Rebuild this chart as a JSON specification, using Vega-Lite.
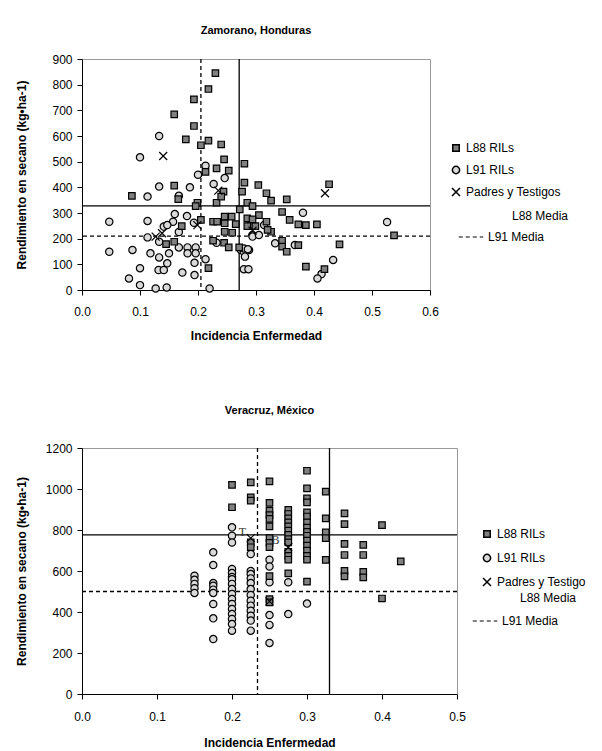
{
  "$schema": "https://vega.github.io/schema/vega-lite/v6.json",
  "padding": {"left": 14, "top": 24, "right": 5, "bottom": 5},
  "background": "white",
  "config": {
    "font": "Liberation Sans",
    "view": {"stroke": "#999999", "strokeWidth": 1},
    "axis": {"grid": false, "domainColor": "black", "tickColor": "black", "tickSize": 5, "labelFontSize": 12, "labelColor": "#000000", "titleFontSize": 12, "titleFontWeight": "bold", "titleColor": "#000000", "labelFont": "Liberation Sans", "titleFont": "Liberation Sans"},
    "title": {"fontSize": 11, "fontWeight": "bold", "font": "Liberation Sans", "anchor": "middle", "color": "#000000"},
    "legend": {"labelFontSize": 12, "labelFont": "Liberation Sans", "labelColor": "#000000"}
  },
  "spacing": 62,
  "resolve": {
    "scale": {"x": "independent", "y": "independent", "shape": "independent", "fill": "independent", "size": "independent", "strokeDash": "independent"},
    "legend": {"shape": "independent", "fill": "independent", "size": "independent", "strokeDash": "independent"}
  },
  "datasets": {
    "zam_means": [
      {"serie": "L88 Media", "eje": "x", "valor": 0.271},
      {"serie": "L88 Media", "eje": "y", "valor": 328},
      {"serie": "L91 Media", "eje": "x", "valor": 0.205},
      {"serie": "L91 Media", "eje": "y", "valor": 210}
    ],
    "ver_means": [
      {"serie": "L88 Media", "eje": "x", "valor": 0.33},
      {"serie": "L88 Media", "eje": "y", "valor": 776},
      {"serie": "L91 Media", "eje": "x", "valor": 0.234},
      {"serie": "L91 Media", "eje": "y", "valor": 500}
    ],
    "ver_labels": [
      {"inc": 0.214, "rend": 792, "etiqueta": "T"},
      {"inc": 0.258, "rend": 752, "etiqueta": "B"}
    ],
    "zam_pts": [
      {"serie": "L91 RILs", "inc": 0.133, "rend": 600},
      {"serie": "L91 RILs", "inc": 0.100, "rend": 517},
      {"serie": "L91 RILs", "inc": 0.213, "rend": 484},
      {"serie": "L91 RILs", "inc": 0.200, "rend": 449},
      {"serie": "L91 RILs", "inc": 0.246, "rend": 436},
      {"serie": "L91 RILs", "inc": 0.227, "rend": 413},
      {"serie": "L91 RILs", "inc": 0.133, "rend": 403},
      {"serie": "L91 RILs", "inc": 0.186, "rend": 400},
      {"serie": "L91 RILs", "inc": 0.113, "rend": 364},
      {"serie": "L91 RILs", "inc": 0.167, "rend": 367},
      {"serie": "L91 RILs", "inc": 0.047, "rend": 266},
      {"serie": "L91 RILs", "inc": 0.113, "rend": 269},
      {"serie": "L91 RILs", "inc": 0.160, "rend": 296},
      {"serie": "L91 RILs", "inc": 0.181, "rend": 288},
      {"serie": "L91 RILs", "inc": 0.157, "rend": 266},
      {"serie": "L91 RILs", "inc": 0.141, "rend": 247},
      {"serie": "L91 RILs", "inc": 0.147, "rend": 253},
      {"serie": "L91 RILs", "inc": 0.167, "rend": 226},
      {"serie": "L91 RILs", "inc": 0.193, "rend": 262},
      {"serie": "L91 RILs", "inc": 0.294, "rend": 214},
      {"serie": "L91 RILs", "inc": 0.113, "rend": 205},
      {"serie": "L91 RILs", "inc": 0.133, "rend": 188},
      {"serie": "L91 RILs", "inc": 0.167, "rend": 166},
      {"serie": "L91 RILs", "inc": 0.182, "rend": 166},
      {"serie": "L91 RILs", "inc": 0.196, "rend": 166},
      {"serie": "L91 RILs", "inc": 0.047, "rend": 149},
      {"serie": "L91 RILs", "inc": 0.087, "rend": 156},
      {"serie": "L91 RILs", "inc": 0.118, "rend": 143},
      {"serie": "L91 RILs", "inc": 0.150, "rend": 143},
      {"serie": "L91 RILs", "inc": 0.182, "rend": 143},
      {"serie": "L91 RILs", "inc": 0.196, "rend": 143},
      {"serie": "L91 RILs", "inc": 0.213, "rend": 120},
      {"serie": "L91 RILs", "inc": 0.232, "rend": 184},
      {"serie": "L91 RILs", "inc": 0.274, "rend": 156},
      {"serie": "L91 RILs", "inc": 0.279, "rend": 149},
      {"serie": "L91 RILs", "inc": 0.288, "rend": 156},
      {"serie": "L91 RILs", "inc": 0.133, "rend": 127},
      {"serie": "L91 RILs", "inc": 0.147, "rend": 104},
      {"serie": "L91 RILs", "inc": 0.100, "rend": 85},
      {"serie": "L91 RILs", "inc": 0.132, "rend": 78},
      {"serie": "L91 RILs", "inc": 0.141, "rend": 78},
      {"serie": "L91 RILs", "inc": 0.173, "rend": 68},
      {"serie": "L91 RILs", "inc": 0.194, "rend": 58},
      {"serie": "L91 RILs", "inc": 0.194, "rend": 106},
      {"serie": "L91 RILs", "inc": 0.081, "rend": 45},
      {"serie": "L91 RILs", "inc": 0.100, "rend": 19},
      {"serie": "L91 RILs", "inc": 0.127, "rend": 6},
      {"serie": "L91 RILs", "inc": 0.146, "rend": 10},
      {"serie": "L91 RILs", "inc": 0.220, "rend": 6},
      {"serie": "L91 RILs", "inc": 0.279, "rend": 81},
      {"serie": "L91 RILs", "inc": 0.287, "rend": 81},
      {"serie": "L91 RILs", "inc": 0.381, "rend": 301},
      {"serie": "L91 RILs", "inc": 0.526, "rend": 265},
      {"serie": "L91 RILs", "inc": 0.314, "rend": 253},
      {"serie": "L91 RILs", "inc": 0.294, "rend": 208},
      {"serie": "L91 RILs", "inc": 0.305, "rend": 214},
      {"serie": "L91 RILs", "inc": 0.333, "rend": 182},
      {"serie": "L91 RILs", "inc": 0.367, "rend": 175},
      {"serie": "L91 RILs", "inc": 0.279, "rend": 162},
      {"serie": "L91 RILs", "inc": 0.286, "rend": 159},
      {"serie": "L91 RILs", "inc": 0.281, "rend": 130},
      {"serie": "L91 RILs", "inc": 0.433, "rend": 117},
      {"serie": "L91 RILs", "inc": 0.413, "rend": 62},
      {"serie": "L91 RILs", "inc": 0.406, "rend": 45},
      {"serie": "L88 RILs", "inc": 0.230, "rend": 845},
      {"serie": "L88 RILs", "inc": 0.218, "rend": 783},
      {"serie": "L88 RILs", "inc": 0.193, "rend": 743},
      {"serie": "L88 RILs", "inc": 0.159, "rend": 684},
      {"serie": "L88 RILs", "inc": 0.193, "rend": 639},
      {"serie": "L88 RILs", "inc": 0.179, "rend": 587},
      {"serie": "L88 RILs", "inc": 0.218, "rend": 582},
      {"serie": "L88 RILs", "inc": 0.205, "rend": 564},
      {"serie": "L88 RILs", "inc": 0.240, "rend": 567},
      {"serie": "L88 RILs", "inc": 0.245, "rend": 509},
      {"serie": "L88 RILs", "inc": 0.280, "rend": 492},
      {"serie": "L88 RILs", "inc": 0.232, "rend": 474},
      {"serie": "L88 RILs", "inc": 0.253, "rend": 465},
      {"serie": "L88 RILs", "inc": 0.213, "rend": 460},
      {"serie": "L88 RILs", "inc": 0.159, "rend": 407},
      {"serie": "L88 RILs", "inc": 0.244, "rend": 383},
      {"serie": "L88 RILs", "inc": 0.276, "rend": 383},
      {"serie": "L88 RILs", "inc": 0.280, "rend": 418},
      {"serie": "L88 RILs", "inc": 0.304, "rend": 409},
      {"serie": "L88 RILs", "inc": 0.086, "rend": 367},
      {"serie": "L88 RILs", "inc": 0.166, "rend": 354},
      {"serie": "L88 RILs", "inc": 0.199, "rend": 340},
      {"serie": "L88 RILs", "inc": 0.196, "rend": 327},
      {"serie": "L88 RILs", "inc": 0.232, "rend": 340},
      {"serie": "L88 RILs", "inc": 0.240, "rend": 364},
      {"serie": "L88 RILs", "inc": 0.272, "rend": 314},
      {"serie": "L88 RILs", "inc": 0.285, "rend": 340},
      {"serie": "L88 RILs", "inc": 0.294, "rend": 327},
      {"serie": "L88 RILs", "inc": 0.172, "rend": 249},
      {"serie": "L88 RILs", "inc": 0.205, "rend": 273},
      {"serie": "L88 RILs", "inc": 0.226, "rend": 266},
      {"serie": "L88 RILs", "inc": 0.233, "rend": 266},
      {"serie": "L88 RILs", "inc": 0.246, "rend": 286},
      {"serie": "L88 RILs", "inc": 0.258, "rend": 286},
      {"serie": "L88 RILs", "inc": 0.246, "rend": 260},
      {"serie": "L88 RILs", "inc": 0.265, "rend": 257},
      {"serie": "L88 RILs", "inc": 0.246, "rend": 227},
      {"serie": "L88 RILs", "inc": 0.259, "rend": 223},
      {"serie": "L88 RILs", "inc": 0.285, "rend": 279},
      {"serie": "L88 RILs", "inc": 0.291, "rend": 253},
      {"serie": "L88 RILs", "inc": 0.299, "rend": 249},
      {"serie": "L88 RILs", "inc": 0.145, "rend": 179},
      {"serie": "L88 RILs", "inc": 0.159, "rend": 188},
      {"serie": "L88 RILs", "inc": 0.226, "rend": 192},
      {"serie": "L88 RILs", "inc": 0.245, "rend": 184},
      {"serie": "L88 RILs", "inc": 0.253, "rend": 166},
      {"serie": "L88 RILs", "inc": 0.271, "rend": 166},
      {"serie": "L88 RILs", "inc": 0.218, "rend": 85},
      {"serie": "L88 RILs", "inc": 0.426, "rend": 412},
      {"serie": "L88 RILs", "inc": 0.318, "rend": 377},
      {"serie": "L88 RILs", "inc": 0.326, "rend": 348},
      {"serie": "L88 RILs", "inc": 0.353, "rend": 353},
      {"serie": "L88 RILs", "inc": 0.345, "rend": 304},
      {"serie": "L88 RILs", "inc": 0.305, "rend": 292},
      {"serie": "L88 RILs", "inc": 0.294, "rend": 275},
      {"serie": "L88 RILs", "inc": 0.318, "rend": 266},
      {"serie": "L88 RILs", "inc": 0.358, "rend": 273},
      {"serie": "L88 RILs", "inc": 0.373, "rend": 256},
      {"serie": "L88 RILs", "inc": 0.386, "rend": 253},
      {"serie": "L88 RILs", "inc": 0.405, "rend": 256},
      {"serie": "L88 RILs", "inc": 0.538, "rend": 213},
      {"serie": "L88 RILs", "inc": 0.285, "rend": 249},
      {"serie": "L88 RILs", "inc": 0.326, "rend": 227},
      {"serie": "L88 RILs", "inc": 0.320, "rend": 234},
      {"serie": "L88 RILs", "inc": 0.345, "rend": 192},
      {"serie": "L88 RILs", "inc": 0.345, "rend": 169},
      {"serie": "L88 RILs", "inc": 0.353, "rend": 149},
      {"serie": "L88 RILs", "inc": 0.373, "rend": 175},
      {"serie": "L88 RILs", "inc": 0.444, "rend": 178},
      {"serie": "L88 RILs", "inc": 0.386, "rend": 91},
      {"serie": "L88 RILs", "inc": 0.418, "rend": 81},
      {"serie": "Padres y Testigos", "inc": 0.140, "rend": 522},
      {"serie": "Padres y Testigos", "inc": 0.235, "rend": 387},
      {"serie": "Padres y Testigos", "inc": 0.419, "rend": 377},
      {"serie": "Padres y Testigos", "inc": 0.199, "rend": 253},
      {"serie": "Padres y Testigos", "inc": 0.294, "rend": 231},
      {"serie": "Padres y Testigos", "inc": 0.127, "rend": 208},
      {"serie": "Padres y Testigos", "inc": 0.138, "rend": 221}
    ],
    "ver_pts": [
      {"serie": "L91 RILs", "inc": 0.15, "rend": 577},
      {"serie": "L91 RILs", "inc": 0.15, "rend": 557},
      {"serie": "L91 RILs", "inc": 0.15, "rend": 537},
      {"serie": "L91 RILs", "inc": 0.15, "rend": 516},
      {"serie": "L91 RILs", "inc": 0.15, "rend": 493},
      {"serie": "L91 RILs", "inc": 0.175, "rend": 691},
      {"serie": "L91 RILs", "inc": 0.175, "rend": 629},
      {"serie": "L91 RILs", "inc": 0.175, "rend": 541},
      {"serie": "L91 RILs", "inc": 0.175, "rend": 528},
      {"serie": "L91 RILs", "inc": 0.175, "rend": 509},
      {"serie": "L91 RILs", "inc": 0.175, "rend": 493},
      {"serie": "L91 RILs", "inc": 0.175, "rend": 439},
      {"serie": "L91 RILs", "inc": 0.175, "rend": 369},
      {"serie": "L91 RILs", "inc": 0.175, "rend": 268},
      {"serie": "L91 RILs", "inc": 0.2, "rend": 813},
      {"serie": "L91 RILs", "inc": 0.2, "rend": 772},
      {"serie": "L91 RILs", "inc": 0.2, "rend": 739},
      {"serie": "L91 RILs", "inc": 0.2, "rend": 610},
      {"serie": "L91 RILs", "inc": 0.2, "rend": 590},
      {"serie": "L91 RILs", "inc": 0.2, "rend": 571},
      {"serie": "L91 RILs", "inc": 0.2, "rend": 560},
      {"serie": "L91 RILs", "inc": 0.2, "rend": 537},
      {"serie": "L91 RILs", "inc": 0.2, "rend": 512},
      {"serie": "L91 RILs", "inc": 0.2, "rend": 488},
      {"serie": "L91 RILs", "inc": 0.2, "rend": 463},
      {"serie": "L91 RILs", "inc": 0.2, "rend": 439},
      {"serie": "L91 RILs", "inc": 0.2, "rend": 415},
      {"serie": "L91 RILs", "inc": 0.2, "rend": 390},
      {"serie": "L91 RILs", "inc": 0.2, "rend": 366},
      {"serie": "L91 RILs", "inc": 0.2, "rend": 341},
      {"serie": "L91 RILs", "inc": 0.2, "rend": 309},
      {"serie": "L91 RILs", "inc": 0.225, "rend": 683},
      {"serie": "L91 RILs", "inc": 0.225, "rend": 600},
      {"serie": "L91 RILs", "inc": 0.225, "rend": 585},
      {"serie": "L91 RILs", "inc": 0.225, "rend": 564},
      {"serie": "L91 RILs", "inc": 0.225, "rend": 541},
      {"serie": "L91 RILs", "inc": 0.225, "rend": 512},
      {"serie": "L91 RILs", "inc": 0.225, "rend": 483},
      {"serie": "L91 RILs", "inc": 0.225, "rend": 455},
      {"serie": "L91 RILs", "inc": 0.225, "rend": 431},
      {"serie": "L91 RILs", "inc": 0.225, "rend": 406},
      {"serie": "L91 RILs", "inc": 0.225, "rend": 382},
      {"serie": "L91 RILs", "inc": 0.225, "rend": 358},
      {"serie": "L91 RILs", "inc": 0.225, "rend": 309},
      {"serie": "L91 RILs", "inc": 0.25, "rend": 655},
      {"serie": "L91 RILs", "inc": 0.25, "rend": 622},
      {"serie": "L91 RILs", "inc": 0.25, "rend": 545},
      {"serie": "L91 RILs", "inc": 0.25, "rend": 385},
      {"serie": "L91 RILs", "inc": 0.25, "rend": 337},
      {"serie": "L91 RILs", "inc": 0.25, "rend": 249},
      {"serie": "L91 RILs", "inc": 0.275, "rend": 545},
      {"serie": "L91 RILs", "inc": 0.275, "rend": 390},
      {"serie": "L91 RILs", "inc": 0.3, "rend": 441},
      {"serie": "L88 RILs", "inc": 0.2, "rend": 1020},
      {"serie": "L88 RILs", "inc": 0.2, "rend": 911},
      {"serie": "L88 RILs", "inc": 0.225, "rend": 1032},
      {"serie": "L88 RILs", "inc": 0.225, "rend": 959},
      {"serie": "L88 RILs", "inc": 0.225, "rend": 943},
      {"serie": "L88 RILs", "inc": 0.225, "rend": 740},
      {"serie": "L88 RILs", "inc": 0.225, "rend": 716},
      {"serie": "L88 RILs", "inc": 0.25, "rend": 1037},
      {"serie": "L88 RILs", "inc": 0.25, "rend": 932},
      {"serie": "L88 RILs", "inc": 0.25, "rend": 894},
      {"serie": "L88 RILs", "inc": 0.25, "rend": 873},
      {"serie": "L88 RILs", "inc": 0.25, "rend": 854},
      {"serie": "L88 RILs", "inc": 0.25, "rend": 818},
      {"serie": "L88 RILs", "inc": 0.25, "rend": 760},
      {"serie": "L88 RILs", "inc": 0.25, "rend": 737},
      {"serie": "L88 RILs", "inc": 0.25, "rend": 716},
      {"serie": "L88 RILs", "inc": 0.25, "rend": 575},
      {"serie": "L88 RILs", "inc": 0.25, "rend": 463},
      {"serie": "L88 RILs", "inc": 0.25, "rend": 447},
      {"serie": "L88 RILs", "inc": 0.275, "rend": 898},
      {"serie": "L88 RILs", "inc": 0.275, "rend": 878},
      {"serie": "L88 RILs", "inc": 0.275, "rend": 857},
      {"serie": "L88 RILs", "inc": 0.275, "rend": 837},
      {"serie": "L88 RILs", "inc": 0.275, "rend": 818},
      {"serie": "L88 RILs", "inc": 0.275, "rend": 797},
      {"serie": "L88 RILs", "inc": 0.275, "rend": 776},
      {"serie": "L88 RILs", "inc": 0.275, "rend": 756},
      {"serie": "L88 RILs", "inc": 0.275, "rend": 740},
      {"serie": "L88 RILs", "inc": 0.275, "rend": 694},
      {"serie": "L88 RILs", "inc": 0.275, "rend": 674},
      {"serie": "L88 RILs", "inc": 0.275, "rend": 655},
      {"serie": "L88 RILs", "inc": 0.275, "rend": 588},
      {"serie": "L88 RILs", "inc": 0.3, "rend": 1089},
      {"serie": "L88 RILs", "inc": 0.3, "rend": 1003},
      {"serie": "L88 RILs", "inc": 0.3, "rend": 954},
      {"serie": "L88 RILs", "inc": 0.3, "rend": 935},
      {"serie": "L88 RILs", "inc": 0.3, "rend": 886},
      {"serie": "L88 RILs", "inc": 0.3, "rend": 866},
      {"serie": "L88 RILs", "inc": 0.3, "rend": 837},
      {"serie": "L88 RILs", "inc": 0.3, "rend": 812},
      {"serie": "L88 RILs", "inc": 0.3, "rend": 791},
      {"serie": "L88 RILs", "inc": 0.3, "rend": 772},
      {"serie": "L88 RILs", "inc": 0.3, "rend": 748},
      {"serie": "L88 RILs", "inc": 0.3, "rend": 724},
      {"serie": "L88 RILs", "inc": 0.3, "rend": 699},
      {"serie": "L88 RILs", "inc": 0.3, "rend": 674},
      {"serie": "L88 RILs", "inc": 0.3, "rend": 655},
      {"serie": "L88 RILs", "inc": 0.3, "rend": 548},
      {"serie": "L88 RILs", "inc": 0.325, "rend": 987},
      {"serie": "L88 RILs", "inc": 0.325, "rend": 857},
      {"serie": "L88 RILs", "inc": 0.325, "rend": 788},
      {"serie": "L88 RILs", "inc": 0.325, "rend": 760},
      {"serie": "L88 RILs", "inc": 0.325, "rend": 654},
      {"serie": "L88 RILs", "inc": 0.35, "rend": 881},
      {"serie": "L88 RILs", "inc": 0.35, "rend": 829},
      {"serie": "L88 RILs", "inc": 0.35, "rend": 732},
      {"serie": "L88 RILs", "inc": 0.35, "rend": 678},
      {"serie": "L88 RILs", "inc": 0.35, "rend": 601},
      {"serie": "L88 RILs", "inc": 0.35, "rend": 574},
      {"serie": "L88 RILs", "inc": 0.375, "rend": 727},
      {"serie": "L88 RILs", "inc": 0.375, "rend": 678},
      {"serie": "L88 RILs", "inc": 0.375, "rend": 596},
      {"serie": "L88 RILs", "inc": 0.375, "rend": 569},
      {"serie": "L88 RILs", "inc": 0.4, "rend": 824},
      {"serie": "L88 RILs", "inc": 0.4, "rend": 466},
      {"serie": "L88 RILs", "inc": 0.425, "rend": 647},
      {"serie": "Padres y Testigo", "inc": 0.225, "rend": 760},
      {"serie": "Padres y Testigo", "inc": 0.275, "rend": 716},
      {"serie": "Padres y Testigo", "inc": 0.25, "rend": 452}
    ]
  },
  "vconcat": [
    {
      "width": 348,
      "height": 231,
      "title": {"text": "Zamorano, Honduras", "offset": 17},
      "layer": [
        {
          "data": {"name": "zam_means"},
          "transform": [{"filter": "datum.eje == 'x'"}],
          "mark": {"type": "rule", "color": "black", "strokeWidth": 1.3},
          "encoding": {
            "x": {"field": "valor", "type": "quantitative", "scale": {"domain": [0, 0.6], "nice": false}, "axis": {"title": "Incidencia Enfermedad", "values": [0, 0.1, 0.2, 0.3, 0.4, 0.5, 0.6], "format": ".1f", "labelPadding": 11, "titlePadding": 13, "labelFlush": false}},
            "strokeDash": {"field": "serie", "type": "nominal", "scale": {"domain": ["L88 Media", "L91 Media"], "range": [[1, 0], [4, 3]]}, "legend": {"title": null, "orient": "none", "legendX": 376, "legendY": 144, "symbolType": "stroke", "symbolSize": 600, "symbolStrokeWidth": 1, "symbolStrokeColor": "black", "rowPadding": 2, "encode": {"symbols": {"update": {"strokeOpacity": {"signal": "datum.value == 'L88 Media' ? 0 : 1"}}}, "labels": {"update": {"dx": {"signal": "datum.value == 'L88 Media' ? 24 : 0"}}}}}}
          }
        },
        {
          "data": {"name": "zam_means"},
          "transform": [{"filter": "datum.eje == 'y'"}],
          "mark": {"type": "rule", "color": "black", "strokeWidth": 1.3},
          "encoding": {
            "y": {"field": "valor", "type": "quantitative", "scale": {"domain": [0, 900], "nice": false}, "axis": {"title": "Rendimiento en secano (kg•ha-1)", "values": [0, 100, 200, 300, 400, 500, 600, 700, 800, 900], "format": "d", "labelPadding": 5, "titlePadding": 23}},
            "strokeDash": {"field": "serie", "type": "nominal", "scale": {"domain": ["L88 Media", "L91 Media"], "range": [[1, 0], [4, 3]]}, "legend": {"title": null, "orient": "none", "legendX": 376, "legendY": 144, "symbolType": "stroke", "symbolSize": 600, "symbolStrokeWidth": 1, "symbolStrokeColor": "black", "rowPadding": 2, "encode": {"symbols": {"update": {"strokeOpacity": {"signal": "datum.value == 'L88 Media' ? 0 : 1"}}}, "labels": {"update": {"dx": {"signal": "datum.value == 'L88 Media' ? 24 : 0"}}}}}}
          }
        },
        {
          "data": {"name": "zam_pts"},
          "mark": {"type": "point", "filled": true, "stroke": "black", "strokeWidth": 1.2, "opacity": 1},
          "encoding": {
            "x": {"field": "inc", "type": "quantitative", "scale": {"domain": [0, 0.6], "nice": false}, "axis": {"title": "Incidencia Enfermedad", "values": [0, 0.1, 0.2, 0.3, 0.4, 0.5, 0.6], "format": ".1f", "labelPadding": 11, "titlePadding": 13, "labelFlush": false}},
            "y": {"field": "rend", "type": "quantitative", "scale": {"domain": [0, 900], "nice": false}, "axis": {"title": "Rendimiento en secano (kg•ha-1)", "values": [0, 100, 200, 300, 400, 500, 600, 700, 800, 900], "format": "d", "labelPadding": 5, "titlePadding": 23}},
            "shape": {"field": "serie", "type": "nominal", "scale": {"domain": ["L88 RILs", "L91 RILs", "Padres y Testigos"], "range": ["square", "circle", "M-1,-1L1,1M-1,1L1,-1"]}, "legend": {"title": null, "orient": "none", "legendX": 368, "legendY": 83, "rowPadding": 8}},
            "fill": {"field": "serie", "type": "nominal", "scale": {"domain": ["L88 RILs", "L91 RILs", "Padres y Testigos"], "range": ["#808080", "#d9d9d9", "#000000"]}, "legend": {"title": null, "orient": "none", "legendX": 368, "legendY": 83, "rowPadding": 8}},
            "size": {"field": "serie", "type": "nominal", "scale": {"domain": ["L88 RILs", "L91 RILs", "Padres y Testigos"], "range": [42, 64, 64]}, "legend": {"title": null, "orient": "none", "legendX": 368, "legendY": 83, "rowPadding": 8}}
          }
        }
      ]
    },
    {
      "width": 375,
      "height": 246,
      "title": {"text": "Veracruz, México", "offset": 26},
      "layer": [
        {
          "data": {"name": "ver_means"},
          "transform": [{"filter": "datum.eje == 'x'"}],
          "mark": {"type": "rule", "color": "black", "strokeWidth": 1.3},
          "encoding": {
            "x": {"field": "valor", "type": "quantitative", "scale": {"domain": [0, 0.5], "nice": false}, "axis": {"title": "Incidencia Enfermedad", "values": [0, 0.1, 0.2, 0.3, 0.4, 0.5], "format": ".1f", "labelPadding": 12, "titlePadding": 15, "labelFlush": false}},
            "strokeDash": {"field": "serie", "type": "nominal", "scale": {"domain": ["L88 Media", "L91 Media"], "range": [[1, 0], [4, 3]]}, "legend": {"title": null, "orient": "none", "legendX": 390, "legendY": 137, "symbolType": "stroke", "symbolSize": 600, "symbolStrokeWidth": 1, "symbolStrokeColor": "black", "rowPadding": 4, "encode": {"symbols": {"update": {"strokeOpacity": {"signal": "datum.value == 'L88 Media' ? 0 : 1"}}}, "labels": {"update": {"dx": {"signal": "datum.value == 'L88 Media' ? 18 : 0"}}}}}}
          }
        },
        {
          "data": {"name": "ver_means"},
          "transform": [{"filter": "datum.eje == 'y'"}],
          "mark": {"type": "rule", "color": "black", "strokeWidth": 1.3},
          "encoding": {
            "y": {"field": "valor", "type": "quantitative", "scale": {"domain": [0, 1200], "nice": false}, "axis": {"title": "Rendimiento en secano (kg•ha-1)", "values": [0, 200, 400, 600, 800, 1000, 1200], "format": "d", "labelPadding": 5, "titlePadding": 17}},
            "strokeDash": {"field": "serie", "type": "nominal", "scale": {"domain": ["L88 Media", "L91 Media"], "range": [[1, 0], [4, 3]]}, "legend": {"title": null, "orient": "none", "legendX": 390, "legendY": 137, "symbolType": "stroke", "symbolSize": 600, "symbolStrokeWidth": 1, "symbolStrokeColor": "black", "rowPadding": 4, "encode": {"symbols": {"update": {"strokeOpacity": {"signal": "datum.value == 'L88 Media' ? 0 : 1"}}}, "labels": {"update": {"dx": {"signal": "datum.value == 'L88 Media' ? 18 : 0"}}}}}}
          }
        },
        {
          "data": {"name": "ver_pts"},
          "mark": {"type": "point", "filled": true, "stroke": "black", "strokeWidth": 1.2, "opacity": 1},
          "encoding": {
            "x": {"field": "inc", "type": "quantitative", "scale": {"domain": [0, 0.5], "nice": false}, "axis": {"title": "Incidencia Enfermedad", "values": [0, 0.1, 0.2, 0.3, 0.4, 0.5], "format": ".1f", "labelPadding": 12, "titlePadding": 15, "labelFlush": false}},
            "y": {"field": "rend", "type": "quantitative", "scale": {"domain": [0, 1200], "nice": false}, "axis": {"title": "Rendimiento en secano (kg•ha-1)", "values": [0, 200, 400, 600, 800, 1000, 1200], "format": "d", "labelPadding": 5, "titlePadding": 17}},
            "shape": {"field": "serie", "type": "nominal", "scale": {"domain": ["L88 RILs", "L91 RILs", "Padres y Testigo"], "range": ["square", "circle", "M-1,-1L1,1M-1,1L1,-1"]}, "legend": {"title": null, "orient": "none", "legendX": 399, "legendY": 80, "rowPadding": 10}},
            "fill": {"field": "serie", "type": "nominal", "scale": {"domain": ["L88 RILs", "L91 RILs", "Padres y Testigo"], "range": ["#808080", "#d9d9d9", "#000000"]}, "legend": {"title": null, "orient": "none", "legendX": 399, "legendY": 80, "rowPadding": 10}},
            "size": {"field": "serie", "type": "nominal", "scale": {"domain": ["L88 RILs", "L91 RILs", "Padres y Testigo"], "range": [42, 64, 64]}, "legend": {"title": null, "orient": "none", "legendX": 399, "legendY": 80, "rowPadding": 10}}
          }
        },
        {
          "data": {"name": "ver_labels"},
          "mark": {"type": "text", "font": "Liberation Serif", "fontSize": 12, "color": "#333333"},
          "encoding": {
            "x": {"field": "inc", "type": "quantitative", "scale": {"domain": [0, 0.5], "nice": false}, "axis": {"title": "Incidencia Enfermedad", "values": [0, 0.1, 0.2, 0.3, 0.4, 0.5], "format": ".1f", "labelPadding": 12, "titlePadding": 15, "labelFlush": false}},
            "y": {"field": "rend", "type": "quantitative", "scale": {"domain": [0, 1200], "nice": false}, "axis": {"title": "Rendimiento en secano (kg•ha-1)", "values": [0, 200, 400, 600, 800, 1000, 1200], "format": "d", "labelPadding": 5, "titlePadding": 17}},
            "text": {"field": "etiqueta", "type": "nominal"}
          }
        }
      ]
    }
  ]
}
